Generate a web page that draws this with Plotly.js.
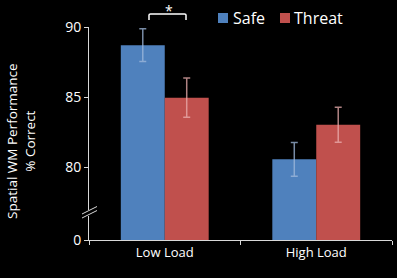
<!DOCTYPE html>
<html><head><meta charset="utf-8">
<script src="https://cdn.plot.ly/plotly-3.0.1.min.js"></script>
<style>html,body{margin:0;padding:0;background:#000;}</style>
</head><body>
<div id="chart" style="width:397px;height:278px;"></div>
<script>
const categories = ['Low Load', 'High Load'];
const safeValues = [88.7, 80.55];
const safeErrors = [1.17, 1.2];
const threatValues = [84.95, 83.02];
const threatErrors = [1.4, 1.25];
const yTickVals = [74.79, 80, 85, 90];
const yTickText = ['0', '80', '85', '90'];

const W = 397, H = 278, L = 89, R = 5, T = 27, B = 38;
const pw = W - L - R, ph = H - T - B;
const px = x => (x - L) / pw;
const py = y => (H - B - y) / ph;
const axisColor = '#d9d9d9';
const font = 'Open Sans, Lato, sans-serif';

const traces = [
  {type: 'bar', name: 'Safe', x: categories, y: safeValues,
   marker: {color: '#4F81BD'},
   error_y: {type: 'data', array: safeErrors, visible: true, color: 'rgba(160,185,220,0.75)', thickness: 1.5, width: 3.5}},
  {type: 'bar', name: 'Threat', x: categories, y: threatValues,
   marker: {color: '#C0504D'},
   error_y: {type: 'data', array: threatErrors, visible: true, color: 'rgba(235,175,175,0.75)', thickness: 1.5, width: 3.5}}
];

const layout = {
  width: W, height: H,
  margin: {l: L, r: R, t: T, b: B},
  paper_bgcolor: '#000', plot_bgcolor: '#000',
  barmode: 'group', bargap: 0.42, bargroupgap: 0,
  showlegend: false,
  font: {family: font, color: '#ffffff', size: 13},
  xaxis: {
    type: 'category', range: [-0.5, 1.5], tickson: 'boundaries',
    ticks: 'outside', ticklen: 4, tickcolor: axisColor, tickwidth: 1,
    showline: true, linecolor: axisColor, linewidth: 1,
    showgrid: false, zeroline: false,
    tickfont: {size: 13, color: '#ffffff'}
  },
  yaxis: {
    range: [74.79, 90], tickvals: yTickVals, ticktext: yTickText,
    ticks: 'outside', ticklen: 4, tickcolor: axisColor, tickwidth: 1,
    showline: true, linecolor: axisColor, linewidth: 1,
    showgrid: false, zeroline: false,
    tickfont: {size: 14, color: '#ffffff'}
  },
  shapes: [
    {type: 'rect', xref: 'paper', yref: 'paper', x0: px(85), x1: px(93), y0: py(216), y1: py(210),
     fillcolor: '#000', line: {width: 0}, layer: 'above'},
    {type: 'line', xref: 'paper', yref: 'paper', x0: px(82), y0: py(214), x1: px(97), y1: py(206.5),
     line: {color: axisColor, width: 1}, layer: 'above'},
    {type: 'line', xref: 'paper', yref: 'paper', x0: px(82), y0: py(218), x1: px(97), y1: py(210.5),
     line: {color: axisColor, width: 1}, layer: 'above'},
    {type: 'path', xref: 'paper', yref: 'paper',
     path: `M ${px(149)} ${py(20)} L ${px(149)} ${py(15)} Q ${px(149)} ${py(14)} ${px(150.5)} ${py(14)} L ${px(184.5)} ${py(14)} Q ${px(186)} ${py(14)} ${px(186)} ${py(15)} L ${px(186)} ${py(20)}`,
     line: {color: '#ffffff', width: 1.5}, layer: 'above'},
    {type: 'rect', xref: 'paper', yref: 'paper', x0: px(218), x1: px(228), y0: py(23), y1: py(13),
     fillcolor: '#4F81BD', line: {width: 0}},
    {type: 'rect', xref: 'paper', yref: 'paper', x0: px(280), x1: px(290), y0: py(23), y1: py(13),
     fillcolor: '#C0504D', line: {width: 0}}
  ],
  annotations: [
    {xref: 'paper', yref: 'paper', x: px(21), y: py(141), text: 'Spatial WM Performance<br>% Correct',
     textangle: -90, showarrow: false, xanchor: 'center', yanchor: 'middle',
     font: {size: 13.5, color: '#ffffff'}},
    {xref: 'paper', yref: 'paper', x: px(168.5), y: py(0), text: '*', showarrow: false,
     xanchor: 'center', yanchor: 'top', borderpad: 0, font: {size: 14, color: '#ffffff'}},
    {xref: 'paper', yref: 'paper', x: px(231), y: py(18), text: 'Safe', showarrow: false,
     xanchor: 'left', yanchor: 'middle', font: {size: 16, color: '#ffffff'}},
    {xref: 'paper', yref: 'paper', x: px(292), y: py(18), text: 'Threat', showarrow: false,
     xanchor: 'left', yanchor: 'middle', font: {size: 16, color: '#ffffff'}}
  ]
};

Plotly.newPlot('chart', traces, layout, {displayModeBar: false, staticPlot: true});
</script>
</body></html>
